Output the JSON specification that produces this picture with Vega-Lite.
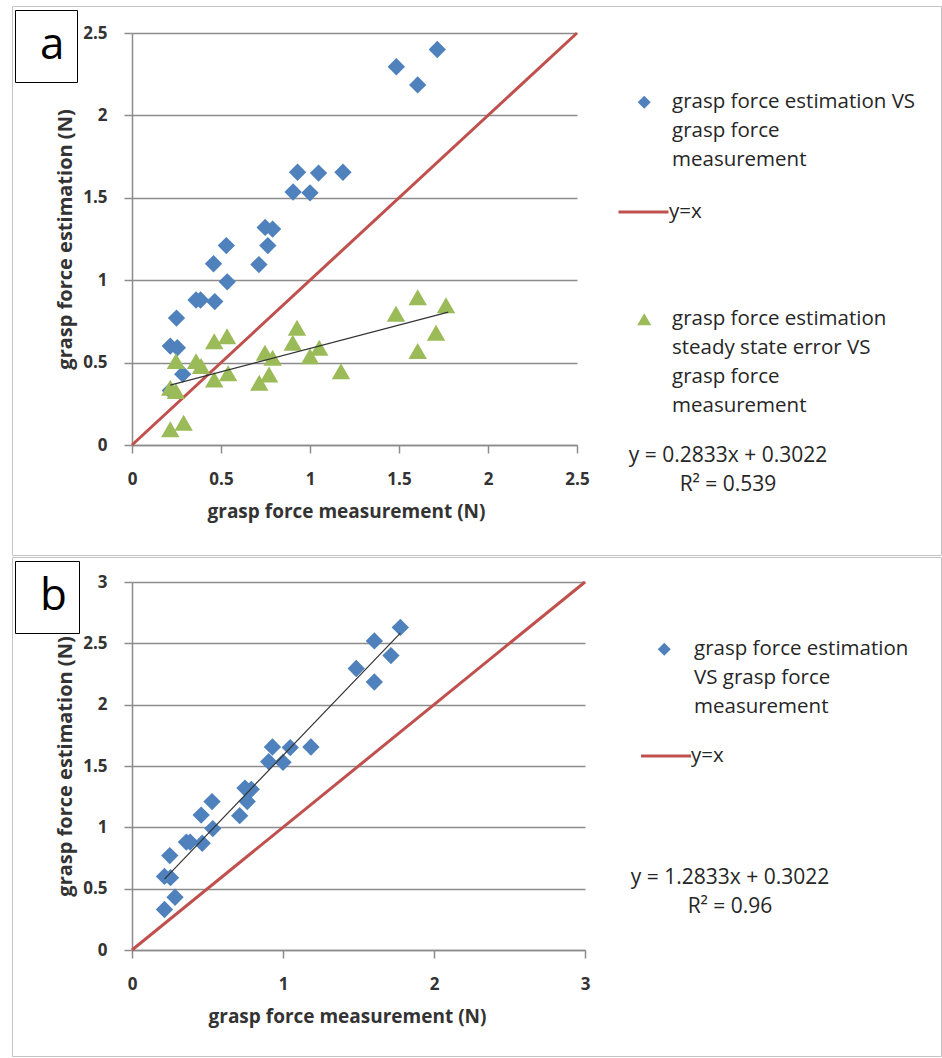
{
  "$schema": "https://vega.github.io/schema/vega-lite/v6.json",
  "padding": {"left": 11, "top": 5, "right": 0, "bottom": 0},
  "background": "white",
  "spacing": 0,
  "config": {
    "font": "Open Sans",
    "view": {"stroke": null},
    "style": {"guide-label": {"lineHeight": 29}},
    "axis": {
      "domainColor": "#8C8C8C", "domainWidth": 1.5,
      "tickColor": "#8C8C8C", "tickWidth": 1.5, "tickSize": 8,
      "gridColor": "#8C8C8C", "gridWidth": 1.5,
      "labelFont": "Open Sans", "labelFontSize": 17, "labelFontWeight": "bold", "labelColor": "#333333",
      "titleFont": "Open Sans", "titleFontWeight": "bold", "titleColor": "#333333",
      "labelFlush": false, "labelExpr": "'' + datum.value"
    },
    "axisX": {"grid": false, "labelPadding": 18, "titlePadding": 15, "titleFontSize": 19},
    "axisY": {"grid": true, "labelPadding": 17, "titlePadding": 7, "titleFontSize": 20},
    "legend": {"labelFont": "Open Sans", "labelFontSize": 20.5, "labelColor": "#262626", "labelLimit": 400, "padding": 0}
  },
  "datasets": {
    "estimation": [
      {"measurement": 0.215, "estimation": 0.33},
      {"measurement": 0.215, "estimation": 0.60},
      {"measurement": 0.255, "estimation": 0.59},
      {"measurement": 0.285, "estimation": 0.43},
      {"measurement": 0.25, "estimation": 0.77},
      {"measurement": 0.36, "estimation": 0.88},
      {"measurement": 0.385, "estimation": 0.88},
      {"measurement": 0.465, "estimation": 0.87},
      {"measurement": 0.458, "estimation": 1.10},
      {"measurement": 0.53, "estimation": 1.21},
      {"measurement": 0.535, "estimation": 0.99},
      {"measurement": 0.713, "estimation": 1.095},
      {"measurement": 0.748, "estimation": 1.32},
      {"measurement": 0.79, "estimation": 1.31},
      {"measurement": 0.763, "estimation": 1.21},
      {"measurement": 0.905, "estimation": 1.535},
      {"measurement": 1.0, "estimation": 1.53},
      {"measurement": 0.93, "estimation": 1.655},
      {"measurement": 1.048, "estimation": 1.65},
      {"measurement": 1.185, "estimation": 1.655},
      {"measurement": 1.485, "estimation": 2.295},
      {"measurement": 1.605, "estimation": 2.185},
      {"measurement": 1.715, "estimation": 2.40},
      {"measurement": 1.605, "estimation": 2.52},
      {"measurement": 1.777, "estimation": 2.63}
    ],
    "error": [
      {"measurement": 0.215, "error": 0.095},
      {"measurement": 0.215, "error": 0.347},
      {"measurement": 0.247, "error": 0.327},
      {"measurement": 0.29, "error": 0.135},
      {"measurement": 0.247, "error": 0.509},
      {"measurement": 0.36, "error": 0.509},
      {"measurement": 0.388, "error": 0.48},
      {"measurement": 0.462, "error": 0.398},
      {"measurement": 0.462, "error": 0.63},
      {"measurement": 0.534, "error": 0.66},
      {"measurement": 0.54, "error": 0.435},
      {"measurement": 0.715, "error": 0.378},
      {"measurement": 0.747, "error": 0.56},
      {"measurement": 0.79, "error": 0.529},
      {"measurement": 0.77, "error": 0.428},
      {"measurement": 0.903, "error": 0.62},
      {"measurement": 1.0, "error": 0.539},
      {"measurement": 0.927, "error": 0.711},
      {"measurement": 1.052, "error": 0.59},
      {"measurement": 1.174, "error": 0.448},
      {"measurement": 1.483, "error": 0.796},
      {"measurement": 1.605, "error": 0.57},
      {"measurement": 1.708, "error": 0.681},
      {"measurement": 1.605, "error": 0.897},
      {"measurement": 1.764, "error": 0.848}
    ]
  },
  "vconcat": [
    {
      "width": 445,
      "height": 412,
      "layer": [
        {
          "data": {"name": "estimation"},
          "transform": [{"filter": "datum.estimation <= 2.5"}],
          "mark": {"type": "point", "shape": "diamond", "filled": true, "size": 300, "opacity": 1},
          "encoding": {
            "x": {"field": "measurement", "type": "quantitative", "scale": {"domain": [0, 2.5], "nice": false}, "axis": {"values": [0, 0.5, 1, 1.5, 2, 2.5], "title": "grasp force measurement (N)", "titleX": 214}},
            "y": {"field": "estimation", "type": "quantitative", "scale": {"domain": [0, 2.5], "nice": false}, "axis": {"values": [0, 0.5, 1, 1.5, 2, 2.5], "title": "grasp force estimation (N)"}},
            "color": {"datum": "estimation", "scale": {"range": ["#4F81BD"]}, "legend": {"title": null, "orient": "none", "legendX": 502, "legendY": 59, "symbolType": "diamond", "symbolSize": 169, "symbolStrokeWidth": 0, "labelOffset": 17.5, "labelExpr": "['grasp force estimation VS', 'grasp force', 'measurement']"}}
          }
        },
        {
          "data": {"values": [{"measurement": 0, "reference": 0}, {"measurement": 2.5, "reference": 2.5}]},
          "mark": {"type": "line", "strokeWidth": 3},
          "encoding": {
            "x": {"field": "measurement", "type": "quantitative", "axis": {"values": [0, 0.5, 1, 1.5, 2, 2.5], "title": "grasp force measurement (N)", "titleX": 214}},
            "y": {"field": "reference", "type": "quantitative", "axis": {"values": [0, 0.5, 1, 1.5, 2, 2.5], "title": "grasp force estimation (N)"}},
            "color": {"datum": "y=x", "scale": {"range": ["#C0504D"]}, "legend": {"title": null, "orient": "none", "legendX": 485, "legendY": 152.5, "symbolType": "stroke", "symbolSize": 2500, "symbolStrokeWidth": 3, "labelOffset": -1, "labelExpr": "'y=x'"}}
          }
        },
        {
          "data": {"name": "error"},
          "mark": {"type": "point", "shape": "triangle-up", "filled": true, "size": 340, "opacity": 1},
          "encoding": {
            "x": {"field": "measurement", "type": "quantitative", "axis": {"values": [0, 0.5, 1, 1.5, 2, 2.5], "title": "grasp force measurement (N)", "titleX": 214}},
            "y": {"field": "error", "type": "quantitative", "axis": {"values": [0, 0.5, 1, 1.5, 2, 2.5], "title": "grasp force estimation (N)"}},
            "color": {"datum": "error", "scale": {"range": ["#9BBB59"]}, "legend": {"title": null, "orient": "none", "legendX": 502, "legendY": 276, "symbolType": "triangle-up", "symbolSize": 200, "symbolStrokeWidth": 0, "labelOffset": 17.5, "labelExpr": "['grasp force estimation', 'steady state error VS', 'grasp force', 'measurement']"}}
          }
        },
        {
          "data": {"values": [{"measurement": 0.215, "fit": 0.363}, {"measurement": 1.777, "fit": 0.806}]},
          "mark": {"type": "line", "strokeWidth": 1.2},
          "encoding": {
            "x": {"field": "measurement", "type": "quantitative", "axis": {"values": [0, 0.5, 1, 1.5, 2, 2.5], "title": "grasp force measurement (N)", "titleX": 214}},
            "y": {"field": "fit", "type": "quantitative", "axis": {"values": [0, 0.5, 1, 1.5, 2, 2.5], "title": "grasp force estimation (N)"}},
            "color": {"datum": "trend", "scale": {"range": ["#333333"]}, "legend": {"title": null, "orient": "none", "legendX": 575, "legendY": 412.5, "symbolOpacity": 0, "symbolSize": 1, "symbolStrokeWidth": 0, "labelFontSize": 21, "labelAlign": "center", "labelOffset": 0, "labelExpr": "['y = 0.2833x + 0.3022', 'R² = 0.539']"}}
          }
        },
        {
          "data": {"values": [{"panel": "a"}]},
          "mark": {"type": "point", "opacity": 0},
          "encoding": {
            "color": {"field": "panel", "type": "nominal", "scale": {"range": ["#000000"]}, "legend": {"title": null, "orient": "none", "legendX": -117, "legendY": -23, "padding": 12, "strokeColor": "#000000", "symbolOpacity": 0, "symbolSize": 1, "symbolOffset": 13, "symbolStrokeWidth": 0, "clipHeight": 48, "labelFontSize": 44, "labelColor": "#000000", "labelOffset": -44, "labelExpr": "'a'"}}
          }
        },
        {
          "data": {"values": [{"frame": "panel a"}]},
          "mark": {"type": "point", "opacity": 0},
          "encoding": {
            "color": {"field": "frame", "type": "nominal", "scale": {"range": ["#FFFFFF"]}, "legend": {"title": null, "orient": "none", "legendX": -120, "legendY": -27, "padding": 0, "strokeColor": "#C4C4C4", "symbolOpacity": 0, "symbolSize": 1, "symbolOffset": 928, "symbolStrokeWidth": 0, "clipHeight": 549, "labelFontSize": 1, "labelOffset": 0, "labelExpr": "''"}}
          }
        }
      ],
      "resolve": {"scale": {"color": "independent"}}
    },
    {
      "width": 453,
      "height": 368,
      "layer": [
        {
          "data": {"name": "estimation"},
          "mark": {"type": "point", "shape": "diamond", "filled": true, "size": 300, "opacity": 1},
          "encoding": {
            "x": {"field": "measurement", "type": "quantitative", "scale": {"domain": [0, 3], "nice": false}, "axis": {"values": [0, 1, 2, 3], "title": "grasp force measurement (N)", "titleX": 215}},
            "y": {"field": "estimation", "type": "quantitative", "scale": {"domain": [0, 3], "nice": false}, "axis": {"values": [0, 0.5, 1, 1.5, 2, 2.5, 3], "title": "grasp force estimation (N)"}},
            "color": {"datum": "estimation", "scale": {"range": ["#4F81BD"]}, "legend": {"title": null, "orient": "none", "legendX": 522, "legendY": 57, "symbolType": "diamond", "symbolSize": 169, "symbolStrokeWidth": 0, "labelOffset": 19.5, "labelExpr": "['grasp force estimation', 'VS grasp force', 'measurement']"}}
          }
        },
        {
          "data": {"values": [{"measurement": 0, "reference": 0}, {"measurement": 3, "reference": 3}]},
          "mark": {"type": "line", "strokeWidth": 3},
          "encoding": {
            "x": {"field": "measurement", "type": "quantitative", "axis": {"values": [0, 1, 2, 3], "title": "grasp force measurement (N)", "titleX": 215}},
            "y": {"field": "reference", "type": "quantitative", "axis": {"values": [0, 0.5, 1, 1.5, 2, 2.5, 3], "title": "grasp force estimation (N)"}},
            "color": {"datum": "y=x", "scale": {"range": ["#C0504D"]}, "legend": {"title": null, "orient": "none", "legendX": 507.5, "legendY": 147.5, "symbolType": "stroke", "symbolSize": 2500, "symbolStrokeWidth": 3, "labelOffset": -1.5, "labelExpr": "'y=x'"}}
          }
        },
        {
          "data": {"values": [{"measurement": 0.215, "fit": 0.578}, {"measurement": 1.777, "fit": 2.583}]},
          "mark": {"type": "line", "strokeWidth": 1.2},
          "encoding": {
            "x": {"field": "measurement", "type": "quantitative", "axis": {"values": [0, 1, 2, 3], "title": "grasp force measurement (N)", "titleX": 215}},
            "y": {"field": "fit", "type": "quantitative", "axis": {"values": [0, 0.5, 1, 1.5, 2, 2.5, 3], "title": "grasp force estimation (N)"}},
            "color": {"datum": "trend", "scale": {"range": ["#333333"]}, "legend": {"title": null, "orient": "none", "legendX": 577, "legendY": 285.5, "symbolOpacity": 0, "symbolSize": 1, "symbolStrokeWidth": 0, "labelFontSize": 21, "labelAlign": "center", "labelOffset": 0, "labelExpr": "['y = 1.2833x + 0.3022', 'R² = 0.96']"}}
          }
        },
        {
          "data": {"values": [{"panel": "b"}]},
          "mark": {"type": "point", "opacity": 0},
          "encoding": {
            "color": {"field": "panel", "type": "nominal", "scale": {"range": ["#000000"]}, "legend": {"title": null, "orient": "none", "legendX": -117, "legendY": -21, "padding": 12, "strokeColor": "#000000", "symbolOpacity": 0, "symbolSize": 1, "symbolOffset": 13, "symbolStrokeWidth": 0, "clipHeight": 48, "labelFontSize": 44, "labelColor": "#000000", "labelOffset": -44, "labelExpr": "'b'"}}
          }
        },
        {
          "data": {"values": [{"frame": "panel b"}]},
          "mark": {"type": "point", "opacity": 0},
          "encoding": {
            "color": {"field": "frame", "type": "nominal", "scale": {"range": ["#FFFFFF"]}, "legend": {"title": null, "orient": "none", "legendX": -120, "legendY": -25, "padding": 0, "strokeColor": "#C4C4C4", "symbolOpacity": 0, "symbolSize": 1, "symbolOffset": 928, "symbolStrokeWidth": 0, "clipHeight": 499, "labelFontSize": 1, "labelOffset": 0, "labelExpr": "''"}}
          }
        }
      ],
      "resolve": {"scale": {"color": "independent"}}
    }
  ]
}
